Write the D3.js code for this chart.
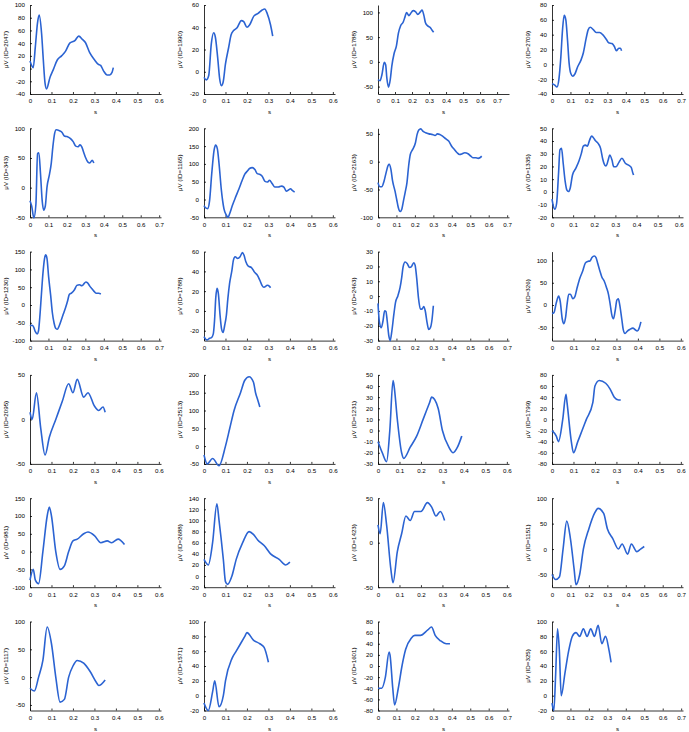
<!DOCTYPE html>
<html>
<head>
<meta charset="utf-8">
<script src="https://cdn.jsdelivr.net/npm/d3@7"></script>
<style>
  body { margin: 0; background: #fff; }
  svg { display: block; }
  .axis path, .axis line { stroke: #000; stroke-width: 0.8; }
  .axis text { font-family: "Liberation Sans", Arial, sans-serif; font-size: 6.2px; fill: #000; }
  .lbl { font-family: "Liberation Sans", Arial, sans-serif; font-size: 6.2px; fill: #000; }
  .trace { fill: none; stroke: #2b63d2; stroke-width: 1.6; }
</style>
</head>
<body>
<script>
// channel ids, one per panel (row by row)
const ids = [2047, 1990, 1788, 2709, 343, 1165, 2163, 1335, 1230, 1788, 2463, 326,
  2095, 2513, 1231, 1799, 981, 2688, 1423, 1151, 1117, 1571, 1601, 325];

// x axis end (s)
const xMax = [0.61, 0.61, 0.77, 0.71, 0.71, 0.61, 0.71, 0.62, 0.71, 0.61, 0.71, 0.61,
  0.61, 0.61, 0.61, 0.61, 0.61, 0.61, 0.61, 0.71, 0.61, 0.61, 0.71, 0.71];

// y limits (µV) and tick step
const yLims = [[-40, 100], [-20, 60], [-65, 115], [-40, 80], [-50, 100], [-50, 200], [-100, 60], [-20, 50],
  [-100, 150], [-30, 60], [-30, 30], [-80, 120], [-50, 50], [-50, 200], [-30, 50], [-80, 80],
  [-100, 150], [-20, 140], [-50, 50], [-75, 100], [-60, 100], [-20, 100], [-80, 80], [-20, 100]];
const yStep = [20, 20, 50, 20, 50, 50, 50, 10, 50, 20, 10, 50,
  50, 50, 10, 20, 50, 20, 50, 50, 50, 20, 20, 20];

// traces: [time s, µV]
const traces = [
  [[0,12],[0.015,1.5],[0.025,35],[0.035,72],[0.043,84],[0.054,55],[0.062,13.6],[0.07,-23],[0.077,-32],[0.093,-14],[0.108,-2],[0.127,13.5],[0.147,20],[0.165,27],[0.185,40],[0.209,44],[0.227,51],[0.244,46],[0.258,41],[0.278,25],[0.301,13.5],[0.317,7],[0.329,5],[0.343,-4],[0.359,-10],[0.371,-10],[0.382,-6],[0.388,1.5]],
  [[0,-5],[0.011,-7.3],[0.022,-3.4],[0.034,25],[0.045,35],[0.053,31],[0.064,12],[0.073,-6.4],[0.081,-12.5],[0.089,-9.5],[0.1,7],[0.115,22],[0.126,33],[0.138,37],[0.154,39.5],[0.174,46],[0.185,45],[0.2,40],[0.212,42],[0.232,50],[0.252,52.5],[0.271,55.5],[0.283,56.4],[0.294,52.5],[0.31,42],[0.32,32]],
  [[0,-36],[0.012,-38],[0.023,-26],[0.037,-1],[0.045,-6],[0.052,-33],[0.062,-51],[0.072,-36],[0.081,-9],[0.095,17.5],[0.108,32],[0.12,58],[0.133,73],[0.149,81],[0.159,91.5],[0.168,99.6],[0.182,93.5],[0.19,97],[0.207,103.6],[0.22,101.6],[0.234,96],[0.25,101.6],[0.259,105],[0.269,95],[0.279,79],[0.292,72.7],[0.308,69],[0.317,64.6],[0.327,60]],
  [[0,-26],[0.015,-28],[0.027,-30.5],[0.037,-21],[0.048,10],[0.057,46.5],[0.066,66],[0.075,60],[0.084,33],[0.093,1],[0.102,-12.5],[0.112,-16],[0.124,-13],[0.139,-3.3],[0.157,5.7],[0.17,15.7],[0.185,35],[0.196,46.5],[0.207,50],[0.225,46.5],[0.239,43],[0.258,43],[0.276,39.7],[0.294,33.8],[0.307,29],[0.325,28],[0.338,24],[0.349,18.4],[0.362,21.6],[0.371,21.6],[0.377,18.4]],
  [[0,-22],[0.009,-31],[0.021,-51],[0.032,-28],[0.041,57.6],[0.048,58.7],[0.057,23],[0.066,-22],[0.074,-38],[0.083,-31],[0.092,0.5],[0.106,23],[0.115,40.5],[0.124,69],[0.133,90.6],[0.142,97.5],[0.16,95.8],[0.174,93],[0.186,87],[0.2,86],[0.218,83],[0.234,77.5],[0.248,70],[0.261,69],[0.271,72],[0.28,69],[0.293,57.6],[0.301,50.7],[0.314,43],[0.324,41.6],[0.337,46],[0.346,41.6]],
  [[0,-17],[0.008,-23.6],[0.017,-25.5],[0.026,-3],[0.036,72.6],[0.047,138.7],[0.054,153],[0.062,143],[0.07,101],[0.081,25.5],[0.093,-26.4],[0.105,-45],[0.112,-50],[0.119,-40.6],[0.132,-17],[0.147,6.6],[0.163,30],[0.178,54],[0.19,71],[0.202,80],[0.212,87],[0.225,89.6],[0.237,84],[0.248,72.6],[0.259,70.8],[0.271,65],[0.284,51],[0.295,49],[0.305,54],[0.318,44],[0.33,35],[0.346,35],[0.361,37.7],[0.372,35],[0.383,23.6],[0.395,27.4],[0.403,30],[0.411,25.5],[0.422,20.8]],
  [[0,-37.7],[0.009,-45],[0.02,-45],[0.033,-34.7],[0.044,-19.7],[0.055,-6.6],[0.061,-4.8],[0.07,-13.7],[0.079,-34.7],[0.092,-52.6],[0.101,-67.5],[0.11,-82.5],[0.12,-89.7],[0.129,-85.5],[0.138,-70.5],[0.147,-55.6],[0.157,-37.7],[0.166,-7.8],[0.175,13],[0.188,22],[0.203,34],[0.212,49],[0.221,56.8],[0.232,59],[0.243,55],[0.258,52],[0.276,50],[0.295,49],[0.309,47],[0.322,50],[0.335,49],[0.35,46],[0.368,41],[0.383,37],[0.401,27],[0.414,22],[0.429,16],[0.442,13],[0.457,14.3],[0.47,16],[0.488,14.3],[0.503,10],[0.516,7],[0.53,7],[0.543,6],[0.552,7],[0.562,10]],
  [[0,-5.7],[0.006,-11],[0.014,-13.6],[0.022,-8.9],[0.031,14.6],[0.0375,33],[0.045,34.2],[0.053,22.5],[0.0625,8],[0.07,1.6],[0.078,0.3],[0.086,2.9],[0.097,13.3],[0.1125,18.5],[0.128,24.5],[0.139,30.3],[0.148,36],[0.159,36.8],[0.167,36],[0.178,40.7],[0.1875,43.9],[0.195,42.8],[0.206,40.2],[0.219,38],[0.23,34.2],[0.24,25.8],[0.25,21],[0.256,20.4],[0.266,25],[0.273,29],[0.284,25],[0.292,19.8],[0.303,19.8],[0.316,23],[0.331,26.4],[0.347,22.5],[0.3625,21],[0.375,19.3],[0.383,14.6],[0.386,13.3]],
  [[0,-59],[0.011,-57],[0.02,-62],[0.029,-75],[0.039,-81],[0.046,-73],[0.053,-35],[0.062,31],[0.07,88],[0.079,131],[0.085,141],[0.092,131],[0.101,79],[0.112,27],[0.121,-21],[0.131,-52],[0.14,-66],[0.149,-68],[0.158,-59],[0.171,-40],[0.18,-26],[0.193,-7],[0.204,12],[0.213,29.5],[0.226,34],[0.241,43],[0.254,55],[0.268,57],[0.281,54],[0.29,58],[0.303,64.6],[0.312,62],[0.324,53],[0.336,45.6],[0.346,39],[0.358,33],[0.373,33],[0.384,31]],
  [[0,-26],[0.008,-28.6],[0.015,-29.3],[0.026,-27.6],[0.035,-26.9],[0.043,-23.5],[0.049,-9.9],[0.055,14],[0.061,23],[0.067,17.3],[0.075,-4.8],[0.082,-18.4],[0.089,-21.8],[0.096,-15],[0.104,-4.8],[0.111,12.2],[0.119,27.6],[0.13,41],[0.137,51.4],[0.145,54.8],[0.157,53],[0.168,54.8],[0.179,59],[0.186,56.5],[0.195,49.7],[0.206,45.2],[0.221,43.9],[0.234,39.5],[0.249,36],[0.26,31],[0.27,25.9],[0.279,24],[0.295,25.9],[0.305,24.8],[0.31,23.5]],
  [[0,-4.9],[0.007,-16.8],[0.018,-21.3],[0.027,-16.8],[0.036,-9.9],[0.043,-10.4],[0.05,-16.8],[0.059,-27],[0.066,-30],[0.075,-23.6],[0.086,-12.2],[0.095,-4.2],[0.108,0.3],[0.12,6],[0.129,13],[0.136,19.7],[0.147,23],[0.158,22],[0.171,19.3],[0.18,19.7],[0.194,22.5],[0.201,20.9],[0.21,11.8],[0.219,-0.8],[0.23,-8.8],[0.239,-8.8],[0.248,-7],[0.256,-9.9],[0.266,-17.9],[0.275,-22.5],[0.284,-21.3],[0.293,-15.6],[0.3,-6.5]],
  [[0,-19],[0.009,-17],[0.02,5],[0.031,20],[0.038,9],[0.048,-32],[0.055,-42],[0.063,-28.5],[0.071,5],[0.078,24],[0.086,24],[0.097,14],[0.106,18],[0.115,35],[0.128,58],[0.143,76.5],[0.155,94],[0.166,98],[0.177,99],[0.186,106.5],[0.197,110],[0.205,106.5],[0.212,95],[0.223,76.5],[0.232,63],[0.243,54],[0.254,39],[0.263,24],[0.271,1.5],[0.278,-21],[0.286,-31],[0.294,-13.5],[0.302,11],[0.309,14],[0.315,1.5],[0.325,-32],[0.332,-56],[0.34,-64],[0.351,-58.5],[0.362,-55],[0.377,-52],[0.386,-55],[0.397,-58.5],[0.405,-53],[0.414,-38]],
  [[0,8],[0.01,0],[0.03,30],[0.05,-10],[0.07,-40],[0.09,-20],[0.12,0],[0.15,20],[0.18,40],[0.2,30],[0.22,45],[0.25,25],[0.27,30],[0.3,15],[0.32,10],[0.34,14],[0.35,8]],
  [[0,-25],[0.015,-50],[0.04,-35],[0.07,-55],[0.1,0],[0.12,50],[0.14,100],[0.17,150],[0.19,185],[0.21,195],[0.23,180],[0.24,150],[0.25,130],[0.26,110]],
  [[0,-10],[0.02,-20],[0.04,-28],[0.055,0],[0.07,45],[0.075,40],[0.09,10],[0.11,-20],[0.12,-25],[0.15,-15],[0.18,-5],[0.21,10],[0.24,25],[0.25,30],[0.28,20],[0.3,0],[0.33,-15],[0.35,-20],[0.37,-15],[0.39,-5]],
  [[0,-20],[0.02,-30],[0.03,-40],[0.05,0],[0.065,45],[0.07,30],[0.09,-40],[0.1,-60],[0.12,-40],[0.14,-20],[0.16,0],[0.19,30],[0.2,60],[0.22,70],[0.25,65],[0.27,55],[0.29,40],[0.31,35],[0.32,35]],
  [[0,-80],[0.015,-50],[0.025,-80],[0.04,-90],[0.06,0],[0.08,100],[0.09,125],[0.1,100],[0.12,0],[0.14,-50],[0.16,-40],[0.18,0],[0.2,30],[0.22,35],[0.25,50],[0.27,55],[0.3,45],[0.33,25],[0.36,30],[0.38,25],[0.41,35],[0.44,20]],
  [[0,30],[0.02,20],[0.04,60],[0.06,130],[0.07,100],[0.09,30],[0.1,-10],[0.11,-15],[0.13,0],[0.15,30],[0.18,60],[0.21,80],[0.23,75],[0.25,65],[0.28,55],[0.31,40],[0.35,30],[0.38,20],[0.4,25]],
  [[0,20],[0.01,10],[0.025,45],[0.04,20],[0.06,-30],[0.07,-45],[0.09,-10],[0.11,10],[0.13,30],[0.15,25],[0.17,35],[0.2,35],[0.23,45],[0.25,40],[0.27,30],[0.29,35],[0.31,25]],
  [[0,-50],[0.02,-60],[0.04,-55],[0.06,0],[0.08,55],[0.1,20],[0.12,-40],[0.13,-70],[0.15,-50],[0.17,0],[0.2,40],[0.23,70],[0.25,80],[0.28,70],[0.3,40],[0.33,20],[0.36,0],[0.38,10],[0.41,-10],[0.43,10],[0.46,-5],[0.48,0],[0.5,5]],
  [[0,-20],[0.02,-25],[0.04,0],[0.06,30],[0.08,90],[0.1,60],[0.12,0],[0.14,-45],[0.16,-40],[0.18,0],[0.2,20],[0.22,30],[0.25,25],[0.28,10],[0.31,-10],[0.32,-15],[0.35,-5]],
  [[0,-10],[0.02,-20],[0.04,5],[0.05,20],[0.07,-15],[0.09,0],[0.1,20],[0.13,50],[0.15,60],[0.17,70],[0.19,80],[0.2,85],[0.23,75],[0.26,70],[0.28,65],[0.3,45]],
  [[0,-40],[0.02,-40],[0.04,-20],[0.06,25],[0.065,20],[0.08,-40],[0.09,-70],[0.11,-40],[0.13,0],[0.15,30],[0.18,50],[0.2,55],[0.23,55],[0.27,65],[0.29,70],[0.31,55],[0.34,45],[0.37,40],[0.39,40]],
  [[0,-10],[0.01,-20],[0.02,30],[0.03,90],[0.04,60],[0.05,0],[0.07,30],[0.09,60],[0.11,80],[0.13,85],[0.15,80],[0.17,90],[0.19,80],[0.21,90],[0.23,80],[0.25,95],[0.27,70],[0.29,80],[0.31,60],[0.32,45]]
];

const W = 689, H = 732;
const colLeft = 30, colStep = 174, plotW = 131;
const rowTop = 5, rowStep = 123.3, plotH = 89;

const svg = d3.select('body')
  .append('svg')
  .attr('width', W)
  .attr('height', H);

ids.forEach((id, i) => {
  const col = i % 4;
  const row = Math.floor(i / 4);
  const left = colLeft + col * colStep;
  const top = rowTop + row * rowStep;

  const x = d3.scaleLinear().domain([0, xMax[i]]).range([0, plotW]);
  const y = d3.scaleLinear().domain(yLims[i]).range([plotH, 0]);

  const g = svg.append('g')
    .attr('transform', `translate(${left}, ${top})`);

  const xTicks = d3.range(0, Math.floor(xMax[i] * 10 + 1e-6) + 1).map(k => k / 10);
  const [y0, y1] = yLims[i];
  const yTicks = d3.range(Math.ceil(y0 / yStep[i]), Math.floor(y1 / yStep[i]) + 1).map(k => k * yStep[i]);

  g.append('g')
    .attr('class', 'axis')
    .attr('transform', `translate(0, ${plotH})`)
    .call(d3.axisBottom(x).tickValues(xTicks).tickSizeInner(-2).tickSizeOuter(0).tickPadding(5)
      .tickFormat(d => d === 0 ? '0' : d3.format('.1f')(d)));

  g.append('g')
    .attr('class', 'axis')
    .call(d3.axisLeft(y).tickValues(yTicks).tickSizeInner(-2).tickSizeOuter(0).tickPadding(5)
      .tickFormat(d => String(d)));

  g.append('text')
    .attr('class', 'lbl')
    .attr('x', plotW / 2)
    .attr('y', plotH + 20)
    .attr('text-anchor', 'middle')
    .text('s');

  g.append('text')
    .attr('class', 'lbl')
    .attr('transform', `translate(-22, ${plotH / 2}) rotate(-90)`)
    .attr('text-anchor', 'middle')
    .text(`μV (ID=${id})`);

  const line = d3.line()
    .x(d => x(d[0]))
    .y(d => y(d[1]))
    .curve(d3.curveMonotoneX);

  g.append('path')
    .datum(traces[i])
    .attr('class', 'trace')
    .attr('d', line);
});
</script>
</body>
</html>
